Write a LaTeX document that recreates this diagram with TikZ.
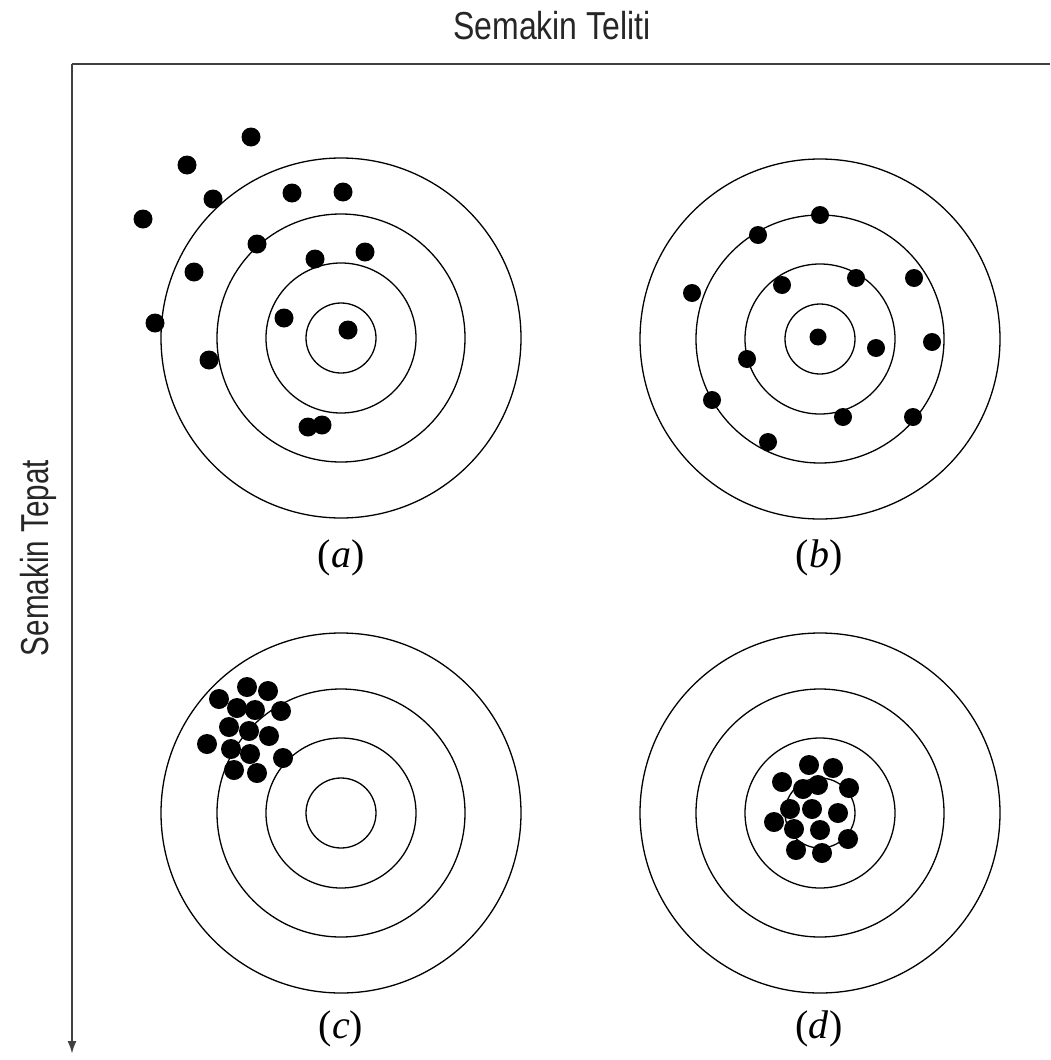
\documentclass[tikz,border=0pt]{standalone}
\usepackage{fontspec}
\setmainfont{Liberation Serif}
\setsansfont{Liberation Sans}
\usetikzlibrary{arrows.meta}

\begin{document}
\begin{tikzpicture}[>={Latex[length=13pt,width=9pt]},x=1pt,y=-1pt,
    ring/.style={line width=1.3pt},
    shot/.style={fill=black},
    axis/.style={line width=2.2pt,black!75},
    axislabel/.style={font=\sffamily\fontsize{39}{39}\selectfont,anchor=base,text=black!85},
    caption/.style={font=\fontsize{40}{40}\selectfont,anchor=base}]
  \useasboundingbox (0,0) rectangle (1050,1060);
  \coordinate (corner) at (72,64);
  \coordinate (xend) at (1050,64);
  \coordinate (yend) at (72,1054);
  \draw[axis] (corner) -- (xend);
  \draw[axis,->] (corner) -- (yend);
  \node[axislabel,xscale=0.82] (teliti) at (552,39) {Semakin Teliti};
  \node[axislabel,rotate=90,xscale=0.76] (tepat) at (48,558) {Semakin Tepat};

  \coordinate (ta) at (341,338);
  \coordinate (tb) at (820,339);
  \coordinate (tc) at (341,813);
  \coordinate (td) at (820,813);
  \foreach \c in {ta,tb,tc,td}
    \foreach \r in {180,124,75,35}
      \draw[ring] (\c) circle[radius=\r];

  \foreach \x/\y in {251/137,187/165,213/199,143/219,292/193,343/192,257/244,365/252,
      315/259,194/272,155/323,284/318,348/330,209/360,308/427,322/425}
    \fill[shot] (\x,\y) circle[radius=9.5];
  \foreach \x/\y in {820/215,758/235,692/293,782/285,856/278,914/278,876/348,932/342,
      747/359,712/400,843/417,913/417,768/442}
    \fill[shot] (\x,\y) circle[radius=9];
  \fill[shot] (818,337) circle[radius=8.5];
  \foreach \x/\y in {247/687,268/691,219/699,237/708,255/710,281/711,229/727,249/731,
      269/736,207/744,231/749,250/754,283/758,234/770,257/773}
    \fill[shot] (\x,\y) circle[radius=10];
  \foreach \x/\y in {809/765,833/768,782/782,803/789,818/785,849/788,790/809,812/809,
      838/813,774/822,794/829,820/830,848/839,796/850,822/853}
    \fill[shot] (\x,\y) circle[radius=10];

  \node[caption] (capa) at (341,567) {(\textit{a})};
  \node[caption] (capb) at (819,567) {(\textit{b})};
  \node[caption] (capc) at (341,1038) {(\textit{c})};
  \node[caption] (capd) at (819,1038) {(\textit{d})};
\end{tikzpicture}
\end{document}
